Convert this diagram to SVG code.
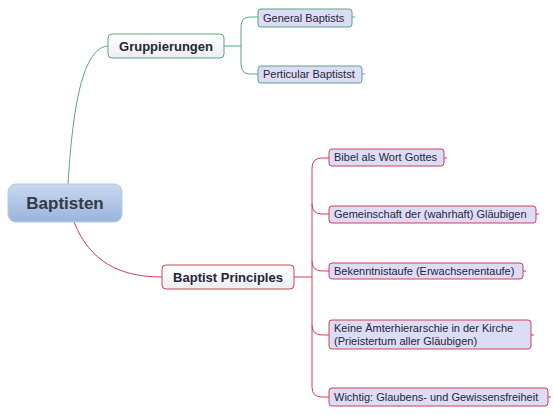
<svg xmlns="http://www.w3.org/2000/svg" width="554" height="415" viewBox="0 0 554 415">
<defs>
<linearGradient id="rootg" x1="0" y1="0" x2="0" y2="1">
<stop offset="0" stop-color="#c9d8ee"/>
<stop offset="1" stop-color="#9ab4dc"/>
</linearGradient>
<linearGradient id="subg" x1="0" y1="0" x2="0" y2="1">
<stop offset="0" stop-color="#ffffff"/>
<stop offset="1" stop-color="#eceef2"/>
</linearGradient>
</defs>
<style>
text{font-family:"Liberation Sans",Arial,sans-serif;fill:#262636}
.root{font-size:17px;font-weight:bold;fill:#333a45}
.main{font-size:13px;font-weight:bold}
.leaf{font-size:11px}
.g{stroke:#5aa585;fill:none;stroke-width:1}
.r{stroke:#d24050;fill:none;stroke-width:1}
.gbox{fill:#dcdcf6;stroke:#5aa585;stroke-width:1}
.rbox{fill:#dcdcf6;stroke:#d24050;stroke-width:1}
</style>
<rect width="554" height="415" fill="#ffffff"/>
<g id="connectors">
<path class="g" d="M68,184 C72,120 80,48 108,46"/>
<path class="g" d="M224,46 L241,46"/>
<path class="g" d="M258,17 L250,17 Q241,17 241,27 L241,64 Q241,74 250,74 L258,74"/>
<path class="g" d="M352,17 L355,17 M362,74 L365,74"/>
<path class="r" d="M74,222 C90,262 120,277 162,277"/>
<path class="r" d="M294,277 L312,277"/>
<path class="r" d="M329,158 L322,158 Q312,158 312,168 L312,387 Q312,397 322,397 L329,397"/>
<path class="r" d="M312,204 Q312,214 322,214 L329,214"/>
<path class="r" d="M312,261 Q312,271 322,271 L329,271"/>
<path class="r" d="M312,325 Q312,335 322,335 L329,335"/>
<path class="r" d="M444,158 L447,158 M536,214 L539,214 M523,271 L526,271 M531,335 L534,335 M548,397 L551,397"/>
</g>
<g id="baptisten">
<rect x="8" y="184" width="114" height="38" rx="8" fill="url(#rootg)" stroke="#b5c8e4"/>
<text class="root" x="65" y="209" text-anchor="middle">Baptisten</text>
</g>
<g id="gruppierungen">
<rect x="108" y="34" width="116" height="24" rx="4" fill="url(#subg)" stroke="#5aa585"/>
<text class="main" x="166" y="51" text-anchor="middle">Gruppierungen</text>
</g>
<g id="general">
<rect class="gbox" x="258" y="9" width="94" height="18" rx="3"/>
<text class="leaf" x="263" y="22">General Baptists</text>
</g>
<g id="perticular">
<rect class="gbox" x="258" y="66" width="104" height="17" rx="3"/>
<text class="leaf" x="263" y="78">Perticular Baptistst</text>
</g>
<g id="principles">
<rect x="162" y="265" width="132" height="24" rx="4" fill="url(#subg)" stroke="#d24050"/>
<text class="main" x="228" y="282" text-anchor="middle">Baptist Principles</text>
</g>
<g id="bibel">
<rect class="rbox" x="329" y="149" width="115" height="17" rx="3"/>
<text class="leaf" x="334" y="161">Bibel als Wort Gottes</text>
</g>
<g id="gemeinschaft">
<rect class="rbox" x="329" y="206" width="207" height="17" rx="3"/>
<text class="leaf" x="334" y="218">Gemeinschaft der (wahrhaft) Gläubigen</text>
</g>
<g id="bekenntnistaufe">
<rect class="rbox" x="329" y="263" width="194" height="16" rx="3"/>
<text class="leaf" x="334" y="275">Bekenntnistaufe (Erwachsenentaufe)</text>
</g>
<g id="aemter">
<rect class="rbox" x="329" y="320" width="202" height="29" rx="3"/>
<text class="leaf" x="334" y="332">Keine Ämterhierarschie in der Kirche</text>
<text class="leaf" x="334" y="345">(Prieistertum aller Gläubigen)</text>
</g>
<g id="wichtig">
<rect class="rbox" x="329" y="388" width="219" height="18" rx="3"/>
<text class="leaf" x="334" y="401">Wichtig: Glaubens- und Gewissensfreiheit</text>
</g>
</svg>
